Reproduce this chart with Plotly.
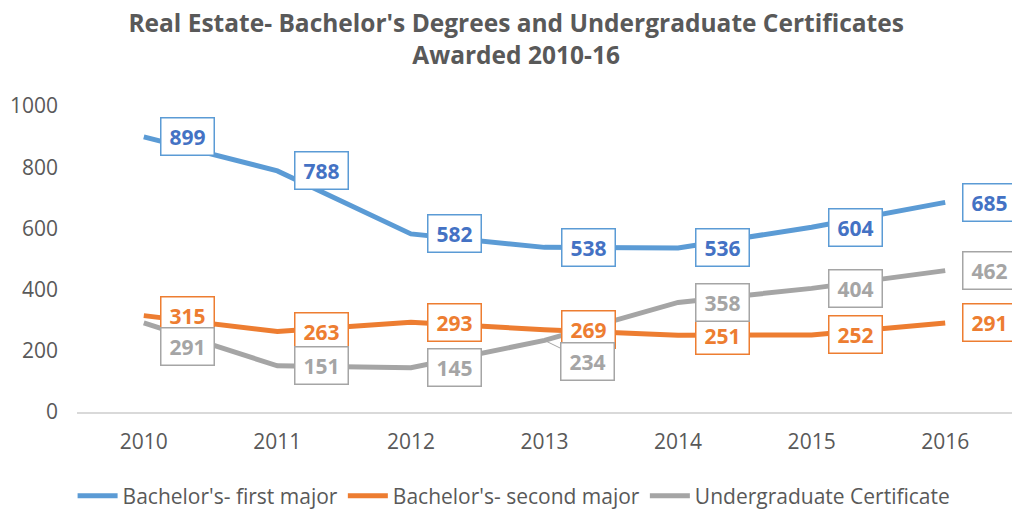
import plotly.graph_objects as go

years = ["2010", "2011", "2012", "2013", "2014", "2015", "2016"]
first_major = [899, 788, 582, 538, 536, 604, 685]
second_major = [315, 263, 293, 269, 251, 252, 291]
ug_cert = [291, 151, 145, 234, 358, 404, 462]

series = [
    ("Bachelor's- first major", first_major, "#5B9BD5", "#4472C4"),
    ("Bachelor's- second major", second_major, "#ED7D31", "#ED7D31"),
    ("Undergraduate Certificate", ug_cert, "#A5A5A5", "#A5A5A5"),
]

# label vertical offsets (px) for the gray series
gray_yshift = [-24, 0, 0, -21, 0, 0, 0]

FONT = "Open Sans"
fig = go.Figure()
annotations = []
for name, vals, lc, tc in series:
    fig.add_trace(go.Scatter(
        x=years, y=vals, mode="lines", name=name,
        line=dict(color=lc, width=5),
    ))
    for i, (yr, v) in enumerate(zip(years, vals)):
        ys = gray_yshift[i] if name.startswith("Under") else 0
        ann = dict(
            x=i, y=v, xref="x", yref="y", text=f"<b>{v}</b>",
            font=dict(family=FONT, size=21, color=tc),
            bgcolor="white", bordercolor=lc, borderwidth=1.5,
            borderpad=4, width=44,
        )
        if name.startswith("Under") and i == 3:
            ann.update(showarrow=True, ax=43, ay=21, arrowhead=0,
                       arrowwidth=1, arrowcolor=lc, standoff=0)
        else:
            ann.update(showarrow=False, xshift=44, yshift=ys)
        annotations.append(ann)

fig.update_layout(
    width=1012, height=510,
    margin=dict(l=77, r=0, t=106, b=98, autoexpand=False),
    paper_bgcolor="white", plot_bgcolor="white",
    title=dict(
        text="<b>Real Estate- Bachelor's Degrees and Undergraduate Certificates<br>Awarded 2010-16</b>",
        x=0.51, xanchor="center", y=0.937, yanchor="middle",
        font=dict(family=FONT, size=24.5, color="#595959"),
    ),
    xaxis=dict(type="category", range=[-0.5, 6.5], showgrid=False,
               showline=True, linecolor="#D9D9D9", linewidth=1.5,
               ticks="", ticklabelstandoff=10,
               tickfont=dict(family=FONT, size=21, color="#595959")),
    yaxis=dict(range=[0, 1000], dtick=200, showgrid=False, zeroline=False,
               showline=False, ticks="", ticklabelstandoff=18,
               tickfont=dict(family=FONT, size=21, color="#595959")),
    legend=dict(orientation="h", xref="container", x=0.508, xanchor="center",
                y=-0.275, yanchor="middle",
                font=dict(family=FONT, size=21, color="#595959"),
                itemwidth=40),
    annotations=annotations,
    showlegend=True,
)

fig.write_html("out.html", config={"displayModeBar": False},
               post_script="document.body.style.margin='0';")
